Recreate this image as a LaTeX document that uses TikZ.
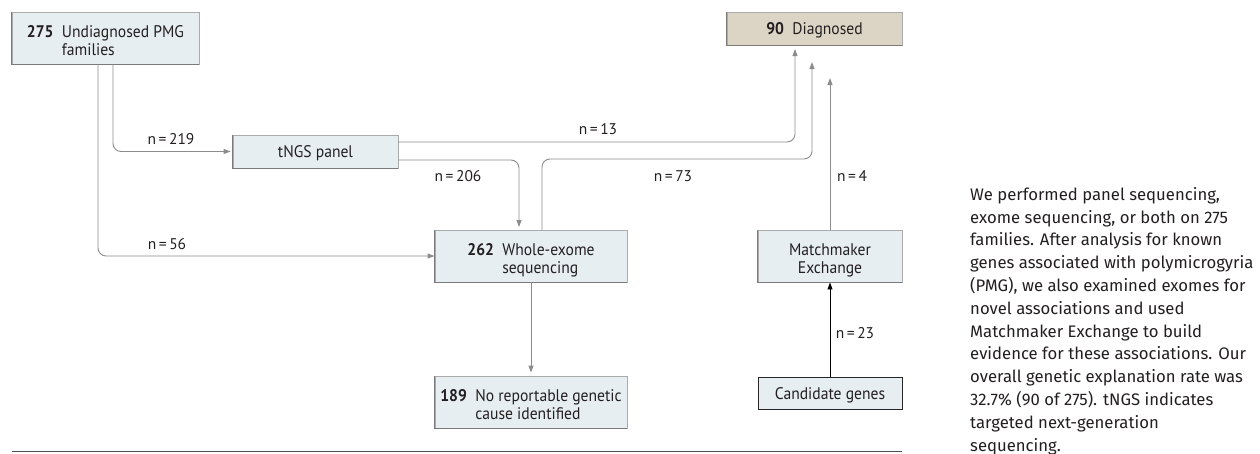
\documentclass[tikz,border=0pt]{standalone}
\usepackage{fontspec}
\setmainfont{PT Sans}
\newfontfamily\boxfont{PT Sans}[FakeStretch=0.93]
\newfontfamily\capfont{Fira Sans}
\usetikzlibrary{arrows.meta,calc}
\definecolor{boxfill}{HTML}{E6EEF2}
\definecolor{boxline}{HTML}{ABABAB}
\definecolor{boxdark}{HTML}{7A7A7A}
\definecolor{diagfill}{HTML}{DCD5C6}
\definecolor{conn}{HTML}{8C8C8C}
\definecolor{txt}{HTML}{231F20}
\newcommand{\twol}[2]{\begin{tabular}[t]{@{}l@{}}#1\\#2\end{tabular}}
\newcommand{\twoc}[2]{\begin{tabular}[t]{@{}c@{}}#1\\#2\end{tabular}}
\begin{document}
\begin{tikzpicture}[x=1pt,y=-1pt,
  box/.style={draw=boxline,fill=boxfill,line width=0.9pt,rectangle,inner sep=0pt,
    font=\boxfont\fontsize{16.8}{18}\selectfont,text=txt},
  one/.style={box,text height=12pt,text depth=0pt},
  two/.style={box,text height=10pt,text depth=12pt},
  edge/.style={draw=boxdark,line width=0.9pt},
  conn/.style={draw=conn,line width=0.9pt,rounded corners=8pt,-{Triangle[length=7pt,width=5pt]}},
  lab/.style={font=\fontsize{15.5}{17}\selectfont,text=txt,inner sep=0pt},
]
\useasboundingbox (0,0) rectangle (1260,453);
% nodes
\node[two,minimum width=187pt,minimum height=52pt] (b1) at (105.5,38)
  {\textbf{275}\enspace\twol{Undiagnosed PMG}{families}};
\node[one,minimum width=165pt,minimum height=33pt] (tngs) at (315.5,151.5) {tNGS panel};
\node[one,fill=diagfill,minimum width=175pt,minimum height=33pt] (diag) at (814.5,28.5) {\textbf{90}\enspace Diagnosed};
\node[two,minimum width=192pt,minimum height=52pt] (wes) at (531,256)
  {\textbf{262}\enspace\twol{Whole-exome}{sequencing}};
\node[two,minimum width=192pt,minimum height=52pt] (norep) at (531,402)
  {\textbf{189}\enspace\twol{No reportable genetic}{cause identified}};
\node[two,minimum width=144pt,minimum height=52pt] (mme) at (830,256)
  {\twoc{Matchmaker}{Exchange}};
\node[one,draw=black!85,minimum width=144pt,minimum height=32pt] (cand) at (830,393) {Candidate genes};
\foreach \n in {b1,tngs,diag,wes,norep,mme}
  \draw[edge] (\n.north west) |- (\n.south east);
% named coordinates
\coordinate (s56) at (98,64);
\coordinate (s219) at (113,64);
\coordinate (s13) at (398,142);
\coordinate (e13) at (795,49);
\coordinate (s206) at (398,160);
\coordinate (e206) at (519,227);
\coordinate (s73) at (542,230);
\coordinate (m73) at (812,159);
\coordinate (e73) at (812,62);
\coordinate (s4) at (830,230);
\coordinate (e4) at (830,78);
% connectors
\draw[conn] (s56) |- (wes.west);
\draw[conn] (s219) |- ($(tngs.west)+(-2,0)$);
\draw[conn] (s13) -| (e13);
\draw[conn] (s206) -| (e206);
\draw[conn] (s73) |- (m73) -- (e73);
\draw[conn,rounded corners=0pt] (s4) -- (e4);
\draw[conn,rounded corners=0pt,shorten >=3pt] (wes.south) -- (norep.north);
\draw[conn,draw=black,rounded corners=0pt] (cand.north) -- (mme.south);
% labels
\node[lab] (l219) at (171,139) {n\,=\,219};
\node[lab] (l56) at (167,244) {n\,=\,56};
\node[lab] (l13) at (598,129) {n\,=\,13};
\node[lab] (l206) at (458,176) {n\,=\,206};
\node[lab] (l73) at (673,176) {n\,=\,73};
\node[lab] (l4) at (852,176) {n\,=\,4};
\node[lab] (l23) at (855,333) {n\,=\,23};
% bottom rule
\coordinate (r1) at (12,451.5);
\coordinate (r2) at (902,451.5);
\draw[line width=1.4pt,draw=black!70] (r1) -- (r2);
% caption
\node[anchor=north west,inner sep=0pt,align=left,text=txt,
  font=\capfont\fontsize{16.7}{22.8}\selectfont] (cap) at (970,187)
  {We performed panel sequencing,\\
   exome sequencing, or both on 275\\
   families. After analysis for known\\
   genes associated with polymicrogyria\\
   (PMG), we also examined exomes for\\
   novel associations and used\\
   Matchmaker Exchange to build\\
   evidence for these associations. Our\\
   overall genetic explanation rate was\\
   32.7\% (90 of 275). tNGS indicates\\
   targeted next-generation\\
   sequencing.};
\end{tikzpicture}
\end{document}
